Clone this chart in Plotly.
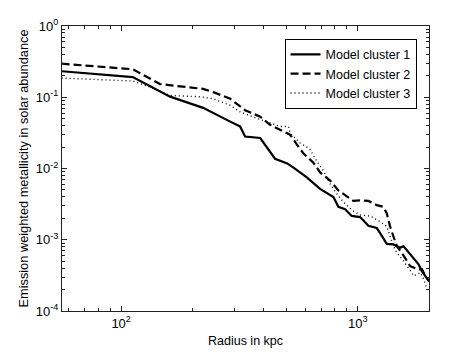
import plotly.graph_objects as go

# Radius (kpc) and emission weighted metallicity (solar units)
radius_1 = [56, 112, 161, 222, 289, 318, 334, 387, 447, 503, 535, 609, 693, 764, 789,
            828, 884, 943, 1023, 1109, 1203, 1243, 1326, 1414, 1509, 1559, 1663, 1803,
            1869, 1960, 2000]
metal_1 = [0.232, 0.192, 0.102, 0.071, 0.0455, 0.039, 0.0281, 0.0268, 0.0137, 0.0118,
           0.0103, 0.00752, 0.00518, 0.0042, 0.00398, 0.0029, 0.00269, 0.00216, 0.00208,
           0.00157, 0.00146, 0.00124, 0.000875, 0.000859, 0.000771, 0.000813, 0.000625,
           0.000455, 0.00036, 0.000279, 0.00026]

radius_2 = [56, 112, 146, 178, 222, 245, 289, 334, 387, 426, 470, 518, 553, 590, 649,
            693, 764, 828, 899, 958, 1023, 1109, 1203, 1283, 1326, 1369, 1414, 1462,
            1534, 1611, 1665, 1805, 1869, 1930, 2000]
metal_2 = [0.296, 0.247, 0.153, 0.142, 0.131, 0.118, 0.0953, 0.0658, 0.0533, 0.0411,
           0.0349, 0.0297, 0.0217, 0.0162, 0.0121, 0.00881, 0.00677, 0.00492, 0.00407,
           0.00351, 0.00358, 0.00351, 0.00306, 0.0029, 0.00234, 0.00154, 0.00112,
           0.000813, 0.000657, 0.000505, 0.000427, 0.000383, 0.000383, 0.000311,
           0.000265]

radius_3 = [56, 112, 133, 161, 216, 245, 289, 318, 375, 456, 472, 510, 518, 570, 625,
            671, 716, 764, 815, 869, 943, 1023, 1127, 1243, 1326, 1369, 1414, 1462,
            1559, 1690, 1724, 1839, 1900, 1960, 2000]
metal_3 = [0.186, 0.169, 0.138, 0.106, 0.1016, 0.0953, 0.0771, 0.0625, 0.0505, 0.0411,
           0.0388, 0.0388, 0.0314, 0.0229, 0.019, 0.0127, 0.0093, 0.00607, 0.00442,
           0.0034, 0.00261, 0.00223, 0.00215, 0.0018, 0.00154, 0.00112, 0.000813,
           0.000657, 0.000505, 0.000345, 0.000311, 0.000345, 0.000279, 0.000203,
           0.00019]

names = ["Model cluster 1", "Model cluster 2", "Model cluster 3"]

y_ticks = [1e-4, 1e-3, 1e-2, 1e-1, 1]
y_labels = ["10<sup>-4</sup>", "10<sup>-3</sup>", "10<sup>-2</sup>", "10<sup>-1</sup>", "10<sup>0</sup>"]
x_ticks = [100, 1000]
x_labels = ["10<sup>2</sup>", "10<sup>3</sup>"]

fig = go.Figure()
fig.add_trace(go.Scatter(x=radius_1, y=metal_1, name=names[0], mode="lines",
                         line=dict(color="black", width=2.2)))
fig.add_trace(go.Scatter(x=radius_2, y=metal_2, name=names[1], mode="lines",
                         line=dict(color="black", width=2.2, dash="8px,4px")))
fig.add_trace(go.Scatter(x=radius_3, y=metal_3, name=names[2], mode="lines",
                         line=dict(color="black", width=1.4, dash="1px,3px")))

minor_x = [m * 10 ** e for e in (1, 2, 3) for m in range(2, 10)]
minor_y = [m * 10.0 ** e for e in (-4, -3, -2, -1) for m in range(2, 10)]

axis_common = dict(showline=True, linecolor="#222", linewidth=1, mirror="ticks",
                   ticks="inside", ticklen=5, tickcolor="#222", showgrid=False,
                   zeroline=False, tickfont=dict(size=13, color="black"))

fig.update_xaxes(type="log", range=[1.75, 3.301], tickvals=x_ticks, ticktext=x_labels,
                 title=dict(text="Radius in kpc", font=dict(size=12.5, color="black"),
                            standoff=6),
                 minor=dict(tickvals=minor_x, ticks="inside", ticklen=3, tickcolor="#222"),
                 **axis_common)
fig.update_yaxes(type="log", range=[-4, 0], tickvals=y_ticks, ticktext=y_labels,
                 title=dict(text="Emission weighted metallicity in solar abundance",
                            font=dict(size=12.8, color="black"), standoff=4),
                 minor=dict(tickvals=minor_y, ticks="inside", ticklen=3, tickcolor="#222"),
                 **axis_common)

fig.update_layout(
    width=474, height=357,
    margin=dict(l=62, r=45, t=26, b=41),
    paper_bgcolor="white", plot_bgcolor="white",
    font=dict(family="Liberation Sans, Arial, sans-serif", color="black"),
    showlegend=True,
    legend=dict(x=0.966, y=0.955, xanchor="right", yanchor="top",
                bgcolor="white", bordercolor="black", borderwidth=1,
                font=dict(size=12.5), tracegroupgap=0, itemwidth=30),
)

# page body margin would push the figure 8px right and down
fig.write_html("out.html", config={"displayModeBar": False},
               post_script="document.body.style.margin='0px';")
